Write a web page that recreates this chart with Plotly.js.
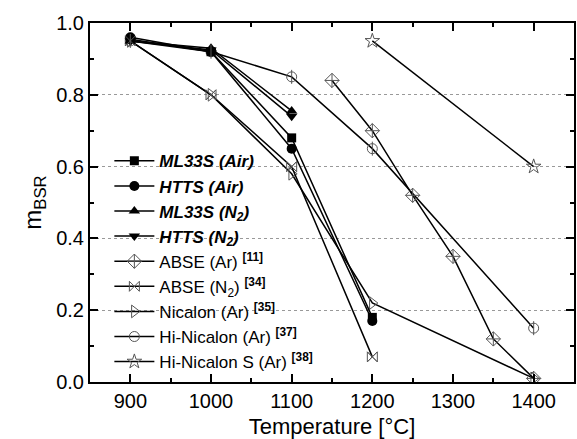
<!DOCTYPE html>
<html><head><meta charset="utf-8">
<script src="https://cdn.plot.ly/plotly-3.0.1.min.js"></script>
<style>body{margin:0;padding:0;background:#fff}#chart{width:577px;height:439px}</style>
</head><body><div id="chart"></div>
<script>
// Data
const ml33sAirX = [900, 1000, 1100, 1200];
const ml33sAirY = [0.955, 0.92, 0.68, 0.18];
const httsAirX = [900, 1000, 1100, 1200];
const httsAirY = [0.96, 0.92, 0.65, 0.17];
const ml33sN2X = [900, 1000, 1100];
const ml33sN2Y = [0.95, 0.93, 0.755];
const httsN2X = [900, 1000, 1100];
const httsN2Y = [0.95, 0.925, 0.74];
const abseArX = [1150, 1200, 1250, 1300, 1350, 1400];
const abseArY = [0.84, 0.70, 0.52, 0.35, 0.12, 0.01];
const abseN2X = [900, 1000, 1100, 1200];
const abseN2Y = [0.95, 0.80, 0.60, 0.07];
const nicalonX = [900, 1000, 1100, 1200, 1400];
const nicalonY = [0.95, 0.80, 0.58, 0.22, 0.01];
const hiNicX = [900, 1000, 1100, 1200, 1400];
const hiNicY = [0.95, 0.92, 0.85, 0.65, 0.15];
const hiNicSX = [1200, 1400];
const hiNicSY = [0.95, 0.60];

const names = [
  '<b><i>ML33S (Air)</i></b>',
  '<b><i>HTTS (Air)</i></b>',
  '<b><i>ML33S (N<sub>2</sub>)</i></b>',
  '<b><i>HTTS (N<sub>2</sub>)</i></b>',
  'ABSE (Ar) <sup><b>[11]</b></sup>',
  'ABSE (N<sub>2</sub>) <sup><b>[34]</b></sup>',
  'Nicalon (Ar) <sup><b>[35]</b></sup>',
  'Hi-Nicalon (Ar) <sup><b>[37]</b></sup>',
  'Hi-Nicalon S (Ar) <sup><b>[38]</b></sup>'
];

const lineStyle = {color: '#000', width: 1.5};
const openCol = '#555';
function tr(x, y, name, symbol, filled, size) {
  return {
    x: x, y: y, name: name, type: 'scatter', mode: 'lines+markers',
    line: lineStyle,
    marker: filled ? {symbol: symbol, size: size, color: '#000'}
                   : {symbol: symbol, size: size, color: openCol, line: {color: openCol, width: 1}}
  };
}
const data = [
  tr(hiNicSX, hiNicSY, names[8], 'star-open', false, 11),
  tr(hiNicX, hiNicY, names[7], 'circle-open', false, 10),
  tr(nicalonX, nicalonY, names[6], 'triangle-right-open', false, 11),
  tr(abseN2X, abseN2Y, names[5], 'bowtie-open', false, 10),
  tr(abseArX, abseArY, names[4], 'diamond-cross-open', false, 11),
  tr(httsN2X, httsN2Y, names[3], 'triangle-down', true, 10),
  tr(ml33sN2X, ml33sN2Y, names[2], 'triangle-up', true, 10),
  tr(httsAirX, httsAirY, names[1], 'circle', true, 10),
  tr(ml33sAirX, ml33sAirY, names[0], 'square', true, 9),
  {x: hiNicX, y: hiNicY, type: 'scatter', mode: 'markers', showlegend: false, hoverinfo: 'skip',
   marker: {symbol: 'line-ns-open', size: 10, color: openCol, line: {color: openCol, width: 1}}},
  {x: abseN2X, y: abseN2Y, type: 'scatter', mode: 'markers', showlegend: false, hoverinfo: 'skip',
   marker: {symbol: 'x-thin-open', size: 10, color: openCol, line: {color: openCol, width: 1}}}
];

const axisCommon = {
  showline: true, linecolor: '#000', linewidth: 2, mirror: 'ticks',
  ticks: 'inside', ticklen: 8, tickwidth: 2, tickcolor: '#000',
  zeroline: false,
  tickfont: {family: 'Liberation Sans, Arial, sans-serif', size: 20, color: '#000'}
};
const layout = {
  width: 577, height: 439,
  margin: {l: 90, r: 3, t: 23, b: 57},
  paper_bgcolor: '#fff', plot_bgcolor: '#fff',
  font: {family: 'Liberation Sans, Arial, sans-serif', color: '#000'},
  showlegend: true,
  legend: {
    x: 0.04, y: 0.665, xanchor: 'left', yanchor: 'top',
    traceorder: 'reversed',
    bgcolor: 'rgba(0,0,0,0)', borderwidth: 0,
    font: {size: 17, color: '#000'},
    tracegroupgap: 0, itemwidth: 40
  },
  xaxis: Object.assign({}, axisCommon, {
    range: [850, 1450], dtick: 100, tick0: 900, showgrid: false,
    minor: {ticks: 'inside', ticklen: 4, tickwidth: 2, tickcolor: '#000', dtick: 50, tick0: 850, showgrid: false},
    title: {text: 'Temperature [°C]', font: {size: 22, color: '#000'}, standoff: 9}
  }),
  yaxis: Object.assign({}, axisCommon, {
    range: [0, 1.0], dtick: 0.2, tickformat: '.1f',
    showgrid: true, gridcolor: '#999', griddash: '3px,3px', gridwidth: 1,
    minor: {ticks: 'inside', ticklen: 4, tickwidth: 2, tickcolor: '#000', dtick: 0.1, showgrid: false},
    title: {text: 'm<sub>BSR</sub>', font: {size: 24, color: '#000'}, standoff: 8}
  })
};
Plotly.newPlot('chart', data, layout, {staticPlot: true, displayModeBar: false});
</script></body></html>
